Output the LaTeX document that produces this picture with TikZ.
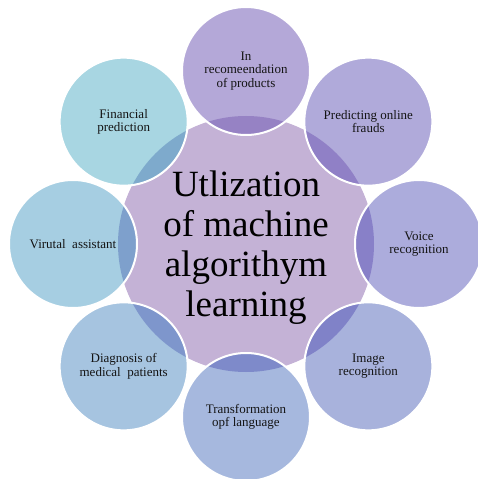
\documentclass[tikz,border=0pt]{standalone}
\usepackage{fontspec}
\setmainfont{Liberation Serif}
% hub and spoke palette
\definecolor{hubfill}{RGB}{196,178,214}
\definecolor{txt}{RGB}{20,20,20}
\definecolor{sA}{RGB}{180,168,216}\definecolor{dA}{RGB}{150,130,196}
\definecolor{sB}{RGB}{176,170,218}\definecolor{dB}{RGB}{144,128,198}
\definecolor{sC}{RGB}{172,172,220}\definecolor{dC}{RGB}{136,128,200}
\definecolor{sD}{RGB}{168,178,220}\definecolor{dD}{RGB}{128,130,200}
\definecolor{sE}{RGB}{166,184,222}\definecolor{dE}{RGB}{126,138,202}
\definecolor{sF}{RGB}{166,196,224}\definecolor{dF}{RGB}{126,150,204}
\definecolor{sG}{RGB}{166,206,226}\definecolor{dG}{RGB}{126,160,204}
\definecolor{sH}{RGB}{168,214,226}\definecolor{dH}{RGB}{126,170,204}
% one satellite circle: name, angle, fill, overlap fill, label
\newcommand\radialitem[5]{%
  \node[spoke, fill=#3] (#1) at (#2:173) {#5};
  \begin{scope}
    \clip (hub.center) circle (128);
    \fill[#4] (#1.center) circle (64);
  \end{scope}
  \draw[rim] (#1.center) circle (64);
}
\begin{document}
\begin{tikzpicture}[x=1pt,y=1pt,
  hub/.style={circle, inner sep=0pt, minimum size=256pt, fill=hubfill},
  spoke/.style={circle, inner sep=0pt, minimum size=128pt, align=center,
    font=\fontsize{13}{13.5}\selectfont, text=txt},
  rim/.style={draw=white, line width=2pt},
  title/.style={align=center, text=black, font=\fontsize{37}{40}\selectfont}]
\useasboundingbox (-246,-235) rectangle (231,244);
\node[hub] (hub) at (0,0) {};
\radialitem{rec}{90}{sA}{dA}{In\\recomeendation\\of products}
\radialitem{fraud}{45}{sB}{dB}{Predicting online\\frauds}
\radialitem{voice}{0}{sC}{dC}{Voice\\recognition}
\radialitem{image}{-45}{sD}{dD}{Image\\recognition}
\radialitem{lang}{-90}{sE}{dE}{Transformation\\opf language}
\radialitem{diag}{-135}{sF}{dF}{Diagnosis of\\medical\ \ patients}
\radialitem{virt}{180}{sG}{dG}{Virutal\ \ assistant}
\radialitem{fin}{135}{sH}{dH}{Financial\\prediction}
\node[title] (core) at (0,-4) {Utlization\\of machine\\algorithym\\learning};
\end{tikzpicture}
\end{document}
